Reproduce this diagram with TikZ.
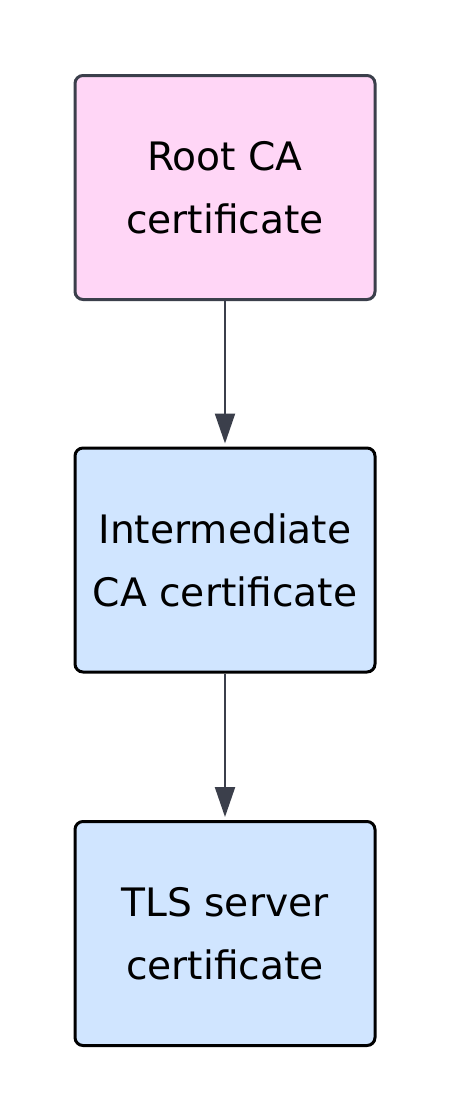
\documentclass[tikz,border=0pt]{standalone}
\usepackage{fontspec}
\setmainfont{DejaVu Sans}
\usepackage{xcolor}
\usepackage{tikz}
\usetikzlibrary{arrows.meta}
\usetikzlibrary{positioning}

\definecolor{rootfill}{HTML}{FFD6F6}
\definecolor{certfill}{HTML}{D0E5FF}
\definecolor{slate}{HTML}{3B3F4B}

\begin{document}
\begin{tikzpicture}[x=0.5pt, y=-0.5pt,
  certbox/.style={draw, line width=1.5pt, rounded corners=4pt, align=center,
    minimum width=150pt, minimum height=112pt, inner sep=0pt,
    font=\fontsize{19.6pt}{31.5pt}\selectfont},
  chain/.style={draw=slate, line width=1.1pt, -{Triangle[length=15pt,width=10pt]}, shorten >=1.5pt}]
 \useasboundingbox[fill=white] (0,0) rectangle (450,1119);

 \node[certbox, draw=slate, fill=rootfill] (root) at (225,187.5) {Root CA\\certificate};
 \node[certbox, draw=black, fill=certfill] (inter) at (225,560) {Intermediate\\CA certificate};
 \node[certbox, draw=black, fill=certfill] (tls) at (225,933.5) {TLS server\\certificate};

 \draw[chain] (root.south) -- (inter.north);
 \draw[chain] (inter.south) -- (tls.north);
\end{tikzpicture}
\end{document}
